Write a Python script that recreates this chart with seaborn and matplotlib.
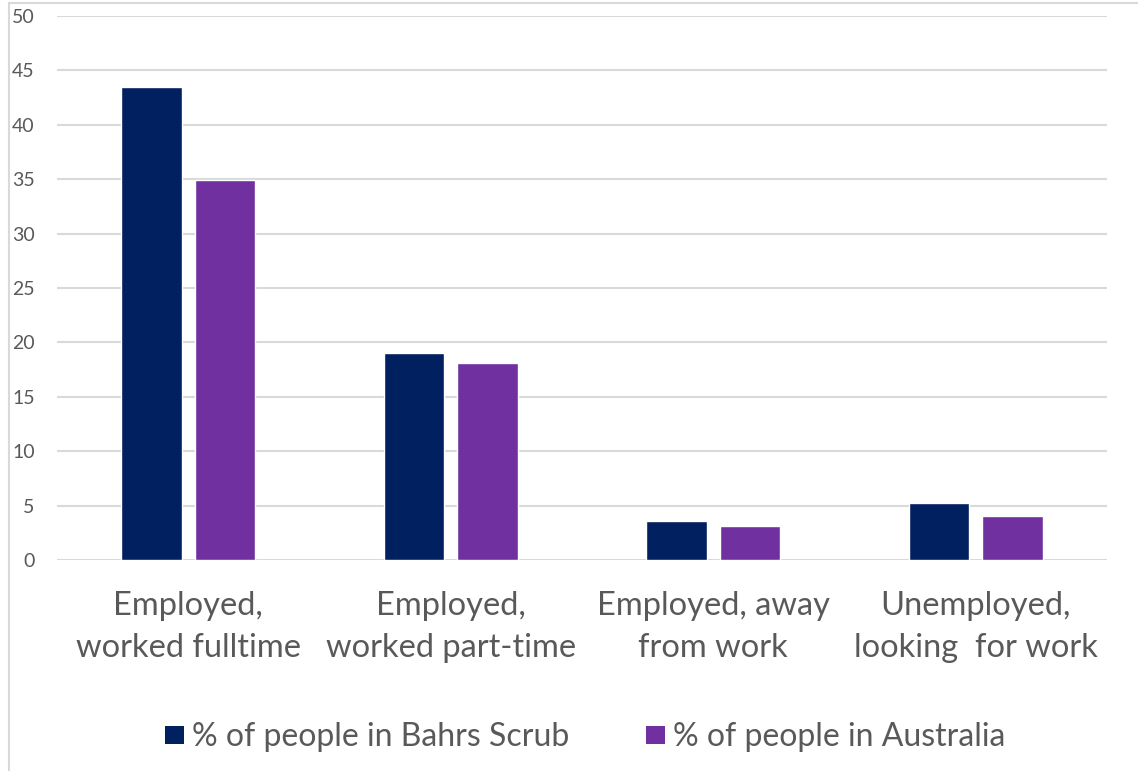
import matplotlib
matplotlib.use("Agg")
import matplotlib.pyplot as plt
import seaborn as sns
import pandas as pd
from matplotlib.lines import Line2D
from matplotlib.patches import Patch

categories = ["Employed,\nworked fulltime", "Employed,\nworked part-time",
              "Employed, away\nfrom work", "Unemployed,\nlooking  for work"]
series = ["% of people in Bahrs Scrub", "% of people in Australia"]
bahrs_scrub = [43.5, 19.0, 3.6, 5.2]
australia = [34.9, 18.1, 3.1, 4.0]
y_ticks = [0, 5, 10, 15, 20, 25, 30, 35, 40, 45, 50]
colors = ["#002060", "#7030A0"]

df = pd.DataFrame({
    "category": categories * 2,
    "series": [series[0]] * 4 + [series[1]] * 4,
    "value": bahrs_scrub + australia,
})

sns.set_theme(style="white")
plt.rcParams["font.family"] = ["Lato", "DejaVu Sans"]

fig = plt.figure(figsize=(11.38, 7.71), dpi=100)
ax = fig.add_axes([57 / 1138, 1 - 560 / 771, (1107 - 57) / 1138, (560 - 16) / 771])
sns.barplot(data=df, x="category", y="value", hue="series", hue_order=series,
            order=categories, palette=colors, width=0.56, gap=0.18,
            saturation=1, legend=False, ax=ax, zorder=3)

ax.set_ylim(0, 50)
ax.set_xlim(-0.5, 3.5)
ax.set_yticks(y_ticks)
ax.set_yticklabels([str(t) for t in y_ticks])
ax.set_xlabel("")
ax.set_ylabel("")
ax.yaxis.grid(True, color="#d9d9d9", lw=1.5)
ax.set_axisbelow(True)
for s in ax.spines.values():
    s.set_visible(False)
ax.tick_params(axis="y", labelsize=14, labelcolor="#595959", length=0, pad=16)
ax.tick_params(axis="x", labelsize=23.5, labelcolor="#595959", length=0, pad=22)
for lbl in ax.get_xticklabels():
    lbl.set_linespacing(1.5)

handles = [Patch(facecolor=c, edgecolor="none") for c in colors]
fig.legend(handles=handles, labels=series, loc="center",
           bbox_to_anchor=(585 / 1138, 1 - 737 / 771), ncol=2, frameon=False,
           fontsize=23, labelcolor="#595959", handlelength=0.6, handleheight=0.5,
           handletextpad=0.25, columnspacing=2.4)

fig.add_artist(Line2D([9 / 1138, 9 / 1138], [0, 1 - 3 / 771], color="#d9d9d9",
                      lw=1.5, transform=fig.transFigure))
fig.add_artist(Line2D([9 / 1138, 1], [1 - 3 / 771, 1 - 3 / 771], color="#d9d9d9",
                      lw=1.5, transform=fig.transFigure))

fig.savefig("out.png", dpi=100)
